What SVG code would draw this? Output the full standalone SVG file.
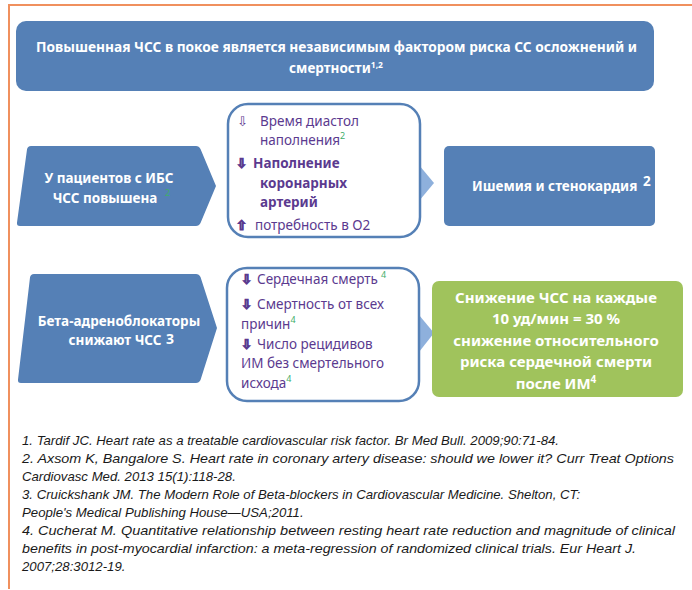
<svg xmlns="http://www.w3.org/2000/svg" width="692" height="590" viewBox="0 0 692 590">
<style>
.blue{fill:#5580b6}
.wt{fill:#ffffff;font-family:"Noto Sans","Open Sans",sans-serif;font-weight:bold}
.pt{fill:#5b3a8f;font-family:"Noto Sans","Open Sans",sans-serif;font-size:13.5px}
.b{font-weight:bold}
.ar{font-family:"DejaVu Sans",sans-serif}
.thick{stroke:#5b3a8f;stroke-width:0.9}
.gs{fill:#3fae6a;font-family:"Noto Sans",sans-serif;font-size:9px}
.mid{fill:#ffffff;stroke:#5580b6;stroke-width:2.5}
.con{fill:#8eb0dc}
.ref{fill:#1a1a1a;font-family:"Liberation Sans",sans-serif;font-style:italic;font-size:13.2px}
</style>
<rect width="692" height="590" fill="#ffffff"/>
<g id="frame" fill="none" stroke="#f0905e" stroke-width="2">
<path d="M9,589 L9,5 L692,5"/>
</g>
<g id="banner">
<rect class="blue" x="16" y="21" width="638" height="70" rx="10"/>
<text class="wt" font-size="13.5" x="36" y="52" textLength="601" lengthAdjust="spacingAndGlyphs">Повышенная ЧСС в покое является независимым фактором риска СС осложнений и</text>
<text class="wt" font-size="13.5" text-anchor="middle" x="336" y="73">смертности<tspan font-size="8.5" dy="-5">1,2</tspan></text>
</g>
<g id="connectors">
<path class="con" d="M419,165 L434,183 L419,201 Z"/>
<path class="con" d="M419,315 L434,333 L419,352 Z"/>
</g>
<g id="patients">
<path class="blue" d="M31,146 L196,146 Q199,146 200.5,149 L216,186 L200.5,223 Q199,226 196,226 L20,226 Q16.5,226 17,222.5 L27,149.5 Q27.5,146 31,146 Z"/>
<text class="wt" font-size="13.5" text-anchor="middle" x="109" y="183">У пациентов с ИБС</text>
<text class="wt" font-size="13.5" text-anchor="middle" x="105" y="203">ЧСС повышена</text>
<text class="gs" x="165" y="196">2</text>
</g>
<g id="mechanism">
<rect class="mid" x="228" y="104" width="192" height="133" rx="20"/>
<text class="pt ar" x="237" y="126" font-size="12">⇩</text>
<text class="pt" x="260" y="126">Время диастол</text>
<text class="pt" x="260" y="145">наполнения<tspan class="gs" dy="-6">2</tspan></text>
<text class="pt ar b thick" x="236" y="168" font-size="13">⇩</text>
<text class="pt b" x="253" y="168">Наполнение</text>
<text class="pt b" x="260" y="188">коронарных</text>
<text class="pt b" x="260" y="207">артерий</text>
<text class="pt ar b thick" x="236" y="230" font-size="13">⇧</text>
<text class="pt" x="255" y="230">потребность в О2</text>
</g>
<g id="ischemia">
<rect class="blue" x="444" y="146" width="211" height="80" rx="5"/>
<text class="wt" font-size="13.5" x="472" y="191">Ишемия и стенокардия</text>
<text class="wt" font-size="13.5" x="643" y="186">2</text>
</g>
<g id="betablockers">
<path class="blue" d="M34,274 L196,274 Q199,274 200.5,277 L217,328 L200.5,380 Q199,383 196,383 L21,383 Q17.5,383 18,379.5 L30,277.5 Q30.5,274 34,274 Z"/>
<text class="wt" font-size="13.5" text-anchor="middle" x="119" y="326">Бета-адреноблокаторы</text>
<text class="wt" font-size="13.5" text-anchor="middle" x="115" y="345">снижают ЧСС</text>
<text class="wt" font-size="14" x="166" y="344">3</text>
</g>
<g id="outcomes">
<rect class="mid" x="227" y="268" width="192" height="133" rx="20"/>
<text class="pt ar b thick" x="241" y="284" font-size="13">⇩</text>
<text class="pt" x="257" y="284">Сердечная смерть<tspan class="gs" dx="3" dy="-6">4</tspan></text>
<text class="pt ar b thick" x="241" y="309" font-size="13">⇩</text>
<text class="pt" x="257" y="309">Смертность от всех</text>
<text class="pt" x="241" y="329">причин<tspan class="gs" dy="-6">4</tspan></text>
<text class="pt ar b thick" x="241" y="349" font-size="13">⇩</text>
<text class="pt" x="257" y="349">Число рецидивов</text>
<text class="pt" x="241" y="368">ИМ без смертельного</text>
<text class="pt" x="241" y="388">исхода<tspan class="gs" dy="-6">4</tspan></text>
</g>
<g id="reduction">
<rect x="432" y="281" width="251" height="116" rx="7" fill="#a0c35c"/>
<text class="wt" font-size="15" text-anchor="middle" x="556" y="303">Снижение ЧСС на каждые</text>
<text class="wt" font-size="15" text-anchor="middle" x="556" y="324">10 уд/мин = 30 %</text>
<text class="wt" font-size="15" text-anchor="middle" x="556" y="346">снижение относительного</text>
<text class="wt" font-size="15" text-anchor="middle" x="556" y="367">риска сердечной смерти</text>
<text class="wt" font-size="15" text-anchor="middle" x="556" y="389">после ИМ<tspan font-size="10" dy="-6">4</tspan></text>
</g>
<g id="references">
<text class="ref" x="22" y="445">1. Tardif JC. Heart rate as a treatable cardiovascular risk factor. Br Med Bull. 2009;90:71-84.</text>
<text class="ref" x="22" y="463" textLength="652" lengthAdjust="spacingAndGlyphs">2. Axsom K, Bangalore S. Heart rate in coronary artery disease: should we lower it? Curr Treat Options</text>
<text class="ref" x="22" y="481">Cardiovasc Med. 2013 15(1):118-28.</text>
<text class="ref" x="22" y="499">3. Cruickshank JM. The Modern Role of Beta-blockers in Cardiovascular Medicine. Shelton, CT:</text>
<text class="ref" x="22" y="517">People's Medical Publishing House—USA;2011.</text>
<text class="ref" x="22" y="535" textLength="653" lengthAdjust="spacingAndGlyphs">4. Cucherat M. Quantitative relationship between resting heart rate reduction and magnitude of clinical</text>
<text class="ref" x="22" y="553" textLength="614" lengthAdjust="spacingAndGlyphs">benefits in post-myocardial infarction: a meta-regression of randomized clinical trials. Eur Heart J.</text>
<text class="ref" x="22" y="571">2007;28:3012-19.</text>
</g>
</svg>
